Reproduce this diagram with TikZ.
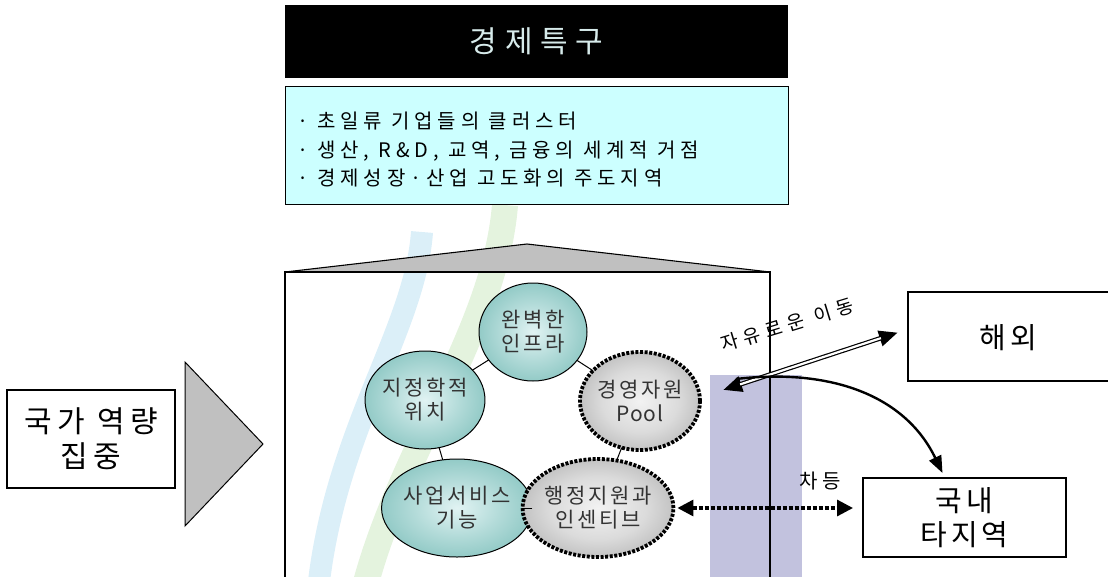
\documentclass[tikz,border=0pt]{standalone}
\usepackage{fontspec}
\setmainfont{Noto Sans CJK KR}
\usetikzlibrary{arrows.meta,shapes.geometric}
\definecolor{titletext}{RGB}{215,235,235}
\definecolor{cyanfill}{RGB}{204,255,255}
\definecolor{roofgray}{RGB}{192,192,192}
\definecolor{lav}{RGB}{194,194,222}
\definecolor{wblue}{RGB}{195,228,244}
\definecolor{wgreen}{RGB}{210,235,200}
\definecolor{tealout}{RGB}{96,176,170}
\definecolor{tealin}{RGB}{225,243,243}
\definecolor{grayout}{RGB}{150,150,150}
\definecolor{grayin}{RGB}{242,242,242}
\pgfdeclareradialshading{tealball}{\pgfpoint{0bp}{0bp}}{color(0bp)=(tealin); color(14bp)=(tealin!65!tealout); color(42bp)=(tealout); color(50bp)=(tealout)}
\pgfdeclareradialshading{grayball}{\pgfpoint{0bp}{0bp}}{color(0bp)=(grayin); color(16bp)=(grayin!75!grayout); color(42bp)=(grayout); color(50bp)=(grayout)}
\begin{document}
\begin{tikzpicture}[x=1pt,y=-1pt,
  every node/.style={inner sep=0pt, outer sep=0pt},
  frame/.style={draw=black, line width=1.1pt},
  circtext/.style={font=\fontsize{21}{24}\selectfont\addfontfeatures{LetterSpace=12}, text=black!80, align=center},
  tealcirc/.style={ellipse, draw=black, line width=1pt, shading=tealball, minimum width=108pt, minimum height=98pt, circtext},
  graycirc/.style={ellipse, draw=black, line width=3.8pt, dash pattern=on 3pt off 1.6pt, shading=grayball, minimum width=110pt, minimum height=98pt, circtext},
  link/.style={draw=black, line width=1pt},
  tipbig/.tip={Triangle[length=19pt,width=15pt]},
  tipdot/.tip={Triangle[length=16pt,width=16pt]},
  tipcurve/.tip={Triangle[length=17pt,width=13pt]},
  dblouter/.style={draw=black, line width=4.6pt, tipbig-tipbig},
  dblinner/.style={draw=white, line width=2.2pt, shorten <=18pt, shorten >=18pt},
  curvearrow/.style={draw=black, line width=2.4pt, -tipcurve},
  dotarrow/.style={draw=black, line width=3.2pt, dash pattern=on 4pt off 2pt, tipdot-tipdot}
]
\useasboundingbox (0,0) rectangle (1108,576);
% watermark traces
\draw[wblue, line width=22pt, opacity=0.6] (422,232) .. controls (415,330) and (335,430) .. (318,590);
\draw[wgreen, line width=26pt, opacity=0.6] (505,205) .. controls (495,330) and (400,450) .. (364,590);
\fill[lav] (710,375) rectangle (802,580);
% title
\node[fill=black, minimum width=503pt, minimum height=73pt, text=titletext,
      font=\fontsize{30}{32}\selectfont\addfontfeatures{LetterSpace=26}] (title) at (536.5,41.5) {경제특구};
\node[frame, line width=1pt, fill=cyanfill, minimum width=503pt, minimum height=118pt] (desc) at (536.5,145) {};
\node[anchor=west, align=left, font=\fontsize{20}{28.5}\selectfont\addfontfeatures{LetterSpace=24}] (bullets) at (297,150)
  {· 초일류 기업들의 클러스터\\· 생산, R\&D, 교역, 금융의 세계적 거점\\· 경제성장·산업 고도화의 주도지역};
% big house frame
\draw[frame, fill=roofgray] (285,272) -- (527,244) -- (770,272) -- cycle;
\draw[frame] (285,580) -- (285,272) -- (770,272) -- (770,580);
% left
\node[frame, minimum width=168pt, minimum height=98pt, align=center, font=\fontsize{30}{35}\selectfont\addfontfeatures{LetterSpace=18}] (nation) at (91,439) {국가 역량\\집중};
\draw[frame, line width=1pt, fill=roofgray] (185,362) -- (263,444) -- (185,526) -- cycle;
% circles
\node[tealcirc] (wanbyeok) at (533,332) {완벽한\\인프라};
\node[tealcirc] (jijeong) at (425,400) {지정학적\\위치};
\node[graycirc] (pool) at (640,401) {경영자원\\{\addfontfeatures{LetterSpace=3}Pool}};
\node[tealcirc] (saeop) at (457,508) {사업서비스\\기능};
\node[graycirc] (haeng) at (598,508) {행정지원과\\인센티브};
\path[link] (wanbyeok) -- (jijeong);
\path[link] (wanbyeok) -- (pool);
\path[link] (jijeong) -- (saeop);
\path[link] (saeop) -- (haeng);
\path[link] (haeng) -- (pool);
% right boxes
\node[frame, minimum width=206pt, minimum height=89pt] (haewoe) at (1011,336.5) {};
\node[font=\fontsize{29}{30}\selectfont\addfontfeatures{LetterSpace=14}] (haewoetxt) at (1008,338) {해외};
\node[frame, minimum width=203pt, minimum height=79pt, font=\fontsize{29}{34}\selectfont\addfontfeatures{LetterSpace=14}, align=center] (guknae) at (964.5,517.5) {국내\\타지역};
% arrows
\coordinate (dblA) at ([shift={(23,-11)}]pool.east);
\coordinate (dblB) at ([shift={(-10,-4)}]haewoe.west);
\path[dblouter] (dblA) -- (dblB);
\path[dblinner] (dblA) -- (dblB);
\coordinate (cstart) at ([shift={(36,-22)}]pool.east);
\path[curvearrow] (cstart) .. controls (830,368) and (905,395) .. ([shift={(-22,-5)}]guknae.north);
\path[dotarrow] ([xshift=4pt]haeng.east) -- ([xshift=-10pt]haeng.east -| guknae.west);
% labels
\node[rotate=17, font=\fontsize{19}{20}\selectfont\addfontfeatures{LetterSpace=30}] (freemove) at (787,325) {자유로운 이동};
\node[font=\fontsize{20}{22}\selectfont\addfontfeatures{LetterSpace=22}] (chadeung) at (820,481) {차등};
\end{tikzpicture}
\end{document}
